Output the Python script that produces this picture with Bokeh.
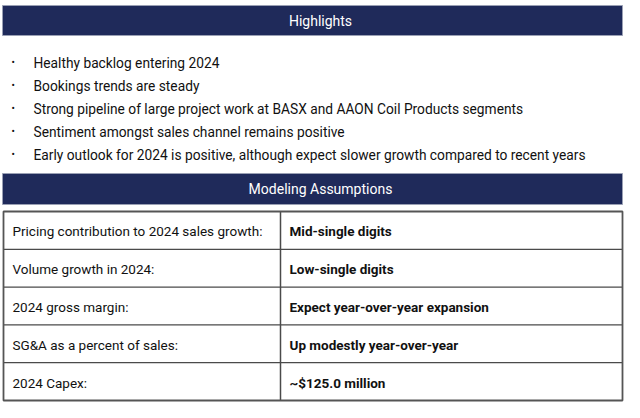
from bokeh.plotting import figure
from bokeh.models import Range1d, ColumnDataSource
from bokeh.core.properties import value
from bokeh.embed import file_html
from bokeh.resources import INLINE

# ---- content ----
section_titles = ["Highlights", "Modeling Assumptions"]
highlights = [
    "Healthy backlog entering 2024",
    "Bookings trends are steady",
    "Strong pipeline of large project work at BASX and AAON Coil Products segments",
    "Sentiment amongst sales channel remains positive",
    "Early outlook for 2024 is positive, although expect slower growth compared to recent years",
]
assumption_labels = [
    "Pricing contribution to 2024 sales growth:",
    "Volume growth in 2024:",
    "2024 gross margin:",
    "SG&A as a percent of sales:",
    "2024 Capex:",
]
assumption_values = [
    "Mid-single digits",
    "Low-single digits",
    "Expect year-over-year expansion",
    "Up modestly year-over-year",
    "~$125.0 million",
]

# ---- layout / style ----
NAVY = "#1F2A5A"
FONT = "Roboto"
W, H = 624, 402
LEFT, RIGHT = 2, 622
COL_X = 280

p = figure(width=W, height=H, x_range=Range1d(0, W), y_range=Range1d(H, 0),
           output_backend="svg", toolbar_location=None, min_border=0,
           x_axis_location=None, y_axis_location=None)
p.grid.visible = False
p.outline_line_color = None
p.background_fill_color = "white"
p.border_fill_color = "white"

# header bars
hdr_top = [5, 173]
hdr_bot = [35, 204]
p.quad(left=LEFT, right=RIGHT, top=hdr_top, bottom=hdr_bot,
       fill_color=NAVY, line_color="#9AA0B4", line_width=1)
hsrc = ColumnDataSource(dict(x=[320] * 2,
                             y=[(t + b) / 2 for t, b in zip(hdr_top, hdr_bot)],
                             t=section_titles))
p.text(x="x", y="y", text="t", source=hsrc, text_color="white",
       text_font=value(FONT), text_font_size="14px", text_align="center",
       text_baseline="middle")

# bullets
b_top, b_step = 62, 23
by = [b_top + i * b_step for i in range(len(highlights))]
bsrc = ColumnDataSource(dict(x=[33] * len(highlights), y=by, t=highlights,
                             bx=[11] * len(highlights), bt=["•"] * len(highlights)))
p.text(x="x", y="y", text="t", source=bsrc, text_color="#111111",
       text_font=value(FONT), text_font_size="13.75px", text_baseline="middle")
p.text(x="bx", y="y", text="bt", source=bsrc, text_color="#111111",
       text_font=value(FONT), text_font_size="10px", text_baseline="middle")

# table
t_top, t_bot = 211, 400
n = len(assumption_labels)
rh = (t_bot - t_top) / n
row_tops = [t_top + i * rh for i in range(n)]
row_mid = [rt + rh / 2 + 1 for rt in row_tops]
# inner horizontal lines
p.segment(x0=LEFT + 1, x1=RIGHT, y0=row_tops[1:], y1=row_tops[1:],
          line_color="#4A4A4A", line_width=1.3)
# column divider
p.segment(x0=[COL_X], x1=[COL_X], y0=[t_top], y1=[t_bot],
          line_color="#4A4A4A", line_width=1.5)
# outer border
p.quad(left=[LEFT + 1], right=[RIGHT], top=[t_top], bottom=[t_bot],
       fill_color=None, line_color="#555555", line_width=1.8)

tsrc = ColumnDataSource(dict(lx=[12] * n, vx=[289] * n, y=row_mid,
                             lab=assumption_labels, val=assumption_values))
p.text(x="lx", y="y", text="lab", source=tsrc, text_color="#111111",
       text_font=value(FONT), text_font_size="13.5px", text_baseline="middle")
p.text(x="vx", y="y", text="val", source=tsrc, text_color="#111111",
       text_font=value(FONT), text_font_size="13.5px", text_font_style="bold",
       text_baseline="middle")

open("out.html", "w").write(file_html(p, INLINE))
